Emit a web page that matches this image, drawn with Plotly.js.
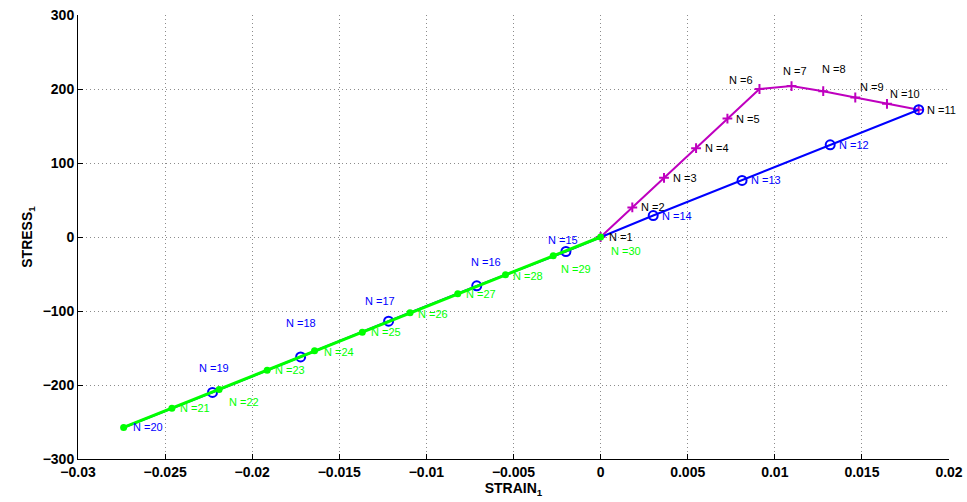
<!DOCTYPE html>
<html>
<head>
<meta charset="utf-8">
<script src="https://cdn.plot.ly/plotly-3.0.1.min.js"></script>
<style>
  html, body { margin: 0; padding: 0; background: #fff; }
  #chart { width: 967px; height: 502px; }
</style>
</head>
<body>
<div id="chart"></div>
<script>
// Loading branch (points N = 1 .. 11)
const loadN      = [1, 2, 3, 4, 5, 6, 7, 8, 9, 10, 11];
const loadStrain = [0, 0.00182, 0.00364, 0.00548, 0.00728, 0.00912, 0.01096, 0.01278, 0.01462, 0.01644, 0.01826];
const loadStress = [0, 40, 80, 120, 160, 200, 204, 197, 188.5, 180, 172];

// Unloading branch (points N = 11 .. 20)
const unloadN      = [11, 12, 13, 14, 15, 16, 17, 18, 19, 20];
const unloadStrain = [0.01826, 0.01318, 0.00812, 0.00302, -0.00199, -0.00711, -0.01217, -0.01722, -0.02228, -0.02738];
const unloadStress = [172, 124.6, 76.4, 29, -19.6, -66, -113.8, -162, -210, -257.4];

// Reloading branch (points N = 20 .. 30)
const reloadN      = [20, 21, 22, 23, 24, 25, 26, 27, 28, 29, 30];
const reloadStrain = [-0.02738, -0.02461, -0.0219, -0.01914, -0.01642, -0.01368, -0.01094, -0.0082, -0.00546, -0.00272, 0];
const reloadStress = [-257.4, -231.3, -206, -180, -153.8, -128.6, -102.5, -76.8, -51, -25.4, 0];

// Label pixel offsets from each point (dx right, dy down); null = no label
const loadLabelDx   = [6, 7, 7, 7, 7, -32, -11, -3, 3, 1, 6];
const loadLabelDy   = [0, 0, 0, 0, 0, -9, -15, -22, -11, -10, 0];
const unloadLabelDx = [null, 7, 7, 7, -20, -8, -26, -17, -15, 7];
const unloadLabelDy = [null, 0, 0, 0, -12, -24, -20, -34, -24, 0];
const reloadLabelDx = [null, 6, 8, 6, 7, 7, 6, 6, 6, 6, 8];
const reloadLabelDy = [null, 0, 13, 0, 1, 0, 1, 0, 1, 13, 14];

const MAGENTA = '#bf00bf';
const BLUE = '#0000ff';
const GREEN = '#00ff00';

const traces = [
  {
    x: loadStrain, y: loadStress, type: 'scatter', mode: 'lines+markers',
    line: { color: MAGENTA, width: 2 },
    marker: { symbol: 'cross-thin', size: 7, line: { color: MAGENTA, width: 2 } },
    hoverinfo: 'x+y'
  },
  {
    x: unloadStrain, y: unloadStress, type: 'scatter', mode: 'lines',
    line: { color: BLUE, width: 2 },
    hoverinfo: 'x+y'
  },
  {
    // circles on the unloading points; the last one is marked by the reloading dot
    x: unloadStrain.slice(0, -1), y: unloadStress.slice(0, -1), type: 'scatter', mode: 'markers',
    marker: { symbol: 'circle-open', size: 9, color: BLUE, line: { color: BLUE, width: 2 } },
    hoverinfo: 'x+y'
  },
  {
    x: reloadStrain, y: reloadStress, type: 'scatter', mode: 'lines+markers',
    line: { color: GREEN, width: 3 },
    marker: { symbol: 'circle', size: 7, color: GREEN },
    hoverinfo: 'x+y'
  }
];

function labels(nums, xs, ys, dxs, dys, color) {
  const out = [];
  nums.forEach((n, i) => {
    if (dxs[i] === null) return;
    out.push({
      x: xs[i], y: ys[i], xref: 'x', yref: 'y',
      text: 'N =' + n, showarrow: false,
      xanchor: 'left', yanchor: 'middle',
      xshift: dxs[i], yshift: -dys[i],
      font: { family: 'Liberation Sans, Arial, sans-serif', size: 11, color: color }
    });
  });
  return out;
}

const annotations = []
  .concat(labels(loadN, loadStrain, loadStress, loadLabelDx, loadLabelDy, '#000000'))
  .concat(labels(unloadN, unloadStrain, unloadStress, unloadLabelDx, unloadLabelDy, BLUE))
  .concat(labels(reloadN, reloadStrain, reloadStress, reloadLabelDx, reloadLabelDy, GREEN));

const axisFont = { family: 'Liberation Sans, Arial, sans-serif', size: 14, color: '#000', weight: 'bold' };

const layout = {
  width: 967, height: 502,
  margin: { l: 78, r: 18, t: 15, b: 43 },
  paper_bgcolor: '#fff', plot_bgcolor: '#fff',
  showlegend: false,
  xaxis: {
    range: [-0.03, 0.02], dtick: 0.005, tick0: 0,
    showgrid: true, gridcolor: '#8c8c8c', griddash: '1px,3px', gridwidth: 1,
    zeroline: false, showline: true, linecolor: '#000', linewidth: 1,
    ticks: 'inside', ticklen: 5, tickcolor: '#000',
    tickfont: axisFont,
    title: { text: 'STRAIN<sub>1</sub>', font: axisFont, standoff: 3 }
  },
  yaxis: {
    range: [-300, 300], dtick: 100, tick0: 0,
    showgrid: true, gridcolor: '#8c8c8c', griddash: '1px,3px', gridwidth: 1,
    zeroline: false, showline: true, linecolor: '#000', linewidth: 1,
    ticks: 'inside', ticklen: 5, tickcolor: '#000',
    tickfont: axisFont,
    title: { text: 'STRESS<sub>1</sub>', font: axisFont, standoff: 6 }
  },
  annotations: annotations
};

Plotly.newPlot('chart', traces, layout, { displayModeBar: false, staticPlot: true });
</script>
</body>
</html>
